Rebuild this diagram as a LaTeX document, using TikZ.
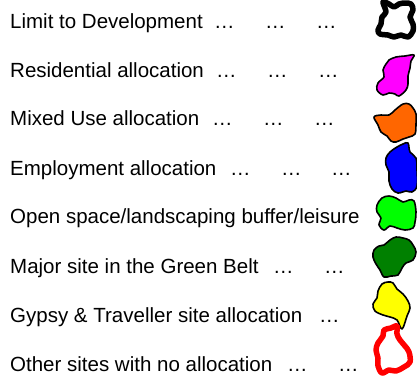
\documentclass[tikz,border=0pt]{standalone}
\usepackage{fontspec}
\setmainfont{Liberation Sans}
\definecolor{cMag}{RGB}{255,0,255}
\definecolor{cOra}{RGB}{255,102,0}
\definecolor{cBlu}{RGB}{0,0,255}
\definecolor{cLgr}{RGB}{0,255,0}
\definecolor{cDgr}{RGB}{0,128,0}
\definecolor{cYel}{RGB}{255,255,0}
\definecolor{cRed}{RGB}{255,0,0}
\definecolor{cBlk}{RGB}{0,0,0}
\begin{document}
\begin{tikzpicture}[x=1pt,y=-1pt,
  lbl/.style={anchor=base west,inner sep=0pt,text=cBlk,font=\fontsize{20.5}{24}\selectfont},
  blob/.style={draw=cBlk,line width=1.6pt,line join=round},
  ring/.style={line width=5.5pt,line join=round,fill=white}]
\useasboundingbox (0,0) rectangle (417,376);
% labels
\node[lbl] (t1) at (10,28)  {Limit to Development};
\node[lbl] (t2) at (10,77)  {Residential allocation};
\node[lbl] (t3) at (10,125) {Mixed Use allocation};
\node[lbl] (t4) at (10,175) {Employment allocation};
\node[lbl] (t5) at (10,223) {Open space/landscaping buffer/leisure};
\node[lbl] (t6) at (10,273) {Major site in the Green Belt};
\node[lbl] (t7) at (10,322) {Gypsy \& Traveller site allocation};
\node[lbl] (t8) at (10,371) {Other sites with no allocation};
% ellipses
\node[lbl] (e1a) at (214,28) {…}; \node[lbl] (e1b) at (265,28) {…}; \node[lbl] (e1c) at (316,28) {…};
\node[lbl] (e2a) at (216,77) {…}; \node[lbl] (e2b) at (267,77) {…}; \node[lbl] (e2c) at (318,77) {…};
\node[lbl] (e3a) at (212,125) {…}; \node[lbl] (e3b) at (263,125) {…}; \node[lbl] (e3c) at (314,125) {…};
\node[lbl] (e4a) at (230,175) {…}; \node[lbl] (e4b) at (281,175) {…}; \node[lbl] (e4c) at (331,175) {…};
\node[lbl] (e6a) at (273,273) {…}; \node[lbl] (e6b) at (324,273) {…};
\node[lbl] (e7a) at (319,322) {…};
\node[lbl] (e8a) at (287,371) {…}; \node[lbl] (e8b) at (338,371) {…};
% shapes
% 1 limit to development (black ring)
\draw[ring,draw=cBlk] plot[smooth cycle,tension=0.6] coordinates {
 (383,2) (389,4) (394,7) (399,4) (405,3) (411,4) (413,10) (410,17) (413,24) (413,31) (408,37)
 (401,35) (394,37) (388,35) (380,34) (378,30) (381,24) (382,17) (386,12)};
% 2 residential (magenta)
\draw[blob,fill=cMag] plot[smooth cycle,tension=0.6] coordinates {
 (396,57) (405,56) (414,55) (411,61) (410,68) (408,76) (408,84) (406,90) (399,96)
 (395,94) (389,93) (383,95) (377,90) (378,83) (384,77) (383,70) (386,64) (389,60)};
% 3 mixed use (orange)
\draw[blob,fill=cOra] plot[smooth cycle,tension=0.6] coordinates {
 (403,104) (409,104) (413,108) (416,114) (416,124) (415,134) (409,137) (403,139) (396,142) (391,141)
 (387,136) (381,132) (378,125) (374,117) (381,115) (389,115) (395,110)};
% 4 employment (blue)
\draw[blob,fill=cBlu] plot[smooth cycle,tension=0.6] coordinates {
 (397,147) (403,144) (408,143) (410,152) (416,158) (417,170) (417,186) (412,192) (406,191) (398,193)
 (392,189) (389,181) (389,172) (386,165) (386,158) (390,152)};
% 5 open space (green)
\draw[blob,fill=cLgr] plot[smooth cycle,tension=0.6] coordinates {
 (382,198) (389,196) (396,198) (403,202) (409,200) (414,201) (416,212) (415,222) (413,228) (405,230)
 (397,228) (390,226) (384,230) (379,225) (381,218) (377,212) (377,205)};
% 6 major site (dark green)
\draw[blob,fill=cDgr] plot[smooth cycle,tension=0.6] coordinates {
 (390,240) (396,237) (403,238) (409,240) (413,245) (416,252) (413,260) (406,263) (402,268) (398,275) (391,276)
 (384,277) (380,270) (376,264) (373,257) (374,250) (379,246) (384,245)};
% 7 gypsy & traveller (yellow)
\draw[blob,fill=cYel] plot[smooth cycle,tension=0.6] coordinates {
 (382,284) (388,282) (393,283) (397,289) (403,294) (408,301) (410,308) (407,316) (402,329)
 (397,320) (390,317) (383,315) (375,311) (373,304) (377,298) (378,291)};
% 8 other sites (red ring)
\draw[ring,draw=cRed] plot[smooth cycle,tension=0.6] coordinates {
 (397,326) (397,334) (400,340) (405,346) (409,352) (410,362) (404,367) (396,371) (389,370)
 (382,373) (378,366) (378,358) (376,350) (378,343) (383,336) (384,330) (391,328)};
\end{tikzpicture}
\end{document}
